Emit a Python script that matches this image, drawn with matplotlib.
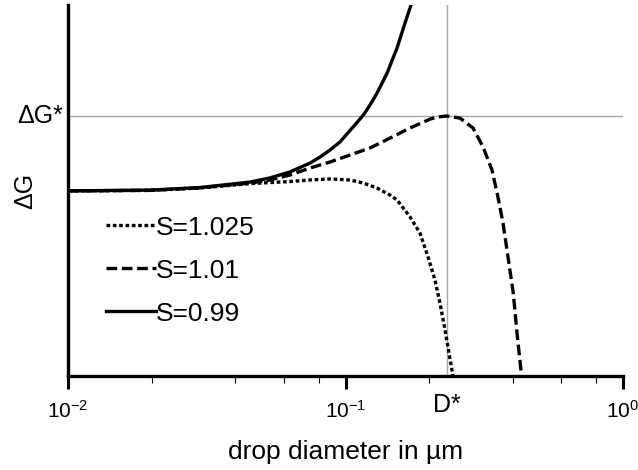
import matplotlib
matplotlib.use('Agg')
import matplotlib.pyplot as plt
import matplotlib.transforms as mtransforms
from matplotlib.ticker import LogLocator, NullFormatter, LogFormatterSciNotation, NullLocator

plt.rcParams['font.family'] = ['Liberation Sans', 'DejaVu Sans']
plt.rcParams['mathtext.fontset'] = 'custom'
plt.rcParams['mathtext.rm'] = 'Liberation Sans'
plt.rcParams['mathtext.it'] = 'Liberation Sans:italic'
plt.rcParams['mathtext.bf'] = 'Liberation Sans:bold'
plt.rcParams['axes.unicode_minus'] = False

# ---- data (drop diameter in um, Delta G in arbitrary units, Delta G* = 100) ----
labels = ['S=1.025', 'S=1.01', 'S=0.99']

d_s1025 = [0.01, 0.0198, 0.0299, 0.0453, 0.0535, 0.0631, 0.0745, 0.0879, 0.1038,
           0.116, 0.1299, 0.1447, 0.1534, 0.1708, 0.1855, 0.1983, 0.2101, 0.2190,
           0.2284, 0.2360, 0.2439]
g_s1025 = [71.2, 71.4, 72.3, 74.0, 74.4, 74.8, 75.4, 75.8, 75.4,
           74.2, 72.3, 69.6, 67.7, 61.2, 55.0, 45.8, 36.9, 28.1,
           17.7, 8.8, 0.0]

d_s101 = [0.01, 0.0198, 0.0299, 0.0453, 0.0535, 0.0631, 0.0745, 0.0879, 0.1038,
          0.1225, 0.1447, 0.1708, 0.2016, 0.2137, 0.2322, 0.2585, 0.2881, 0.3130,
          0.3373, 0.3544, 0.3695, 0.3851, 0.4023, 0.4150, 0.4310]
g_s101 = [71.2, 71.4, 72.4, 74.2, 75.4, 77.3, 80.0, 82.3, 85.0,
          87.7, 91.5, 95.4, 98.8, 99.6, 100.0, 99.2, 95.4, 88.1,
          79.2, 68.8, 58.8, 45.8, 31.9, 16.5, 0.0]

d_s099 = [0.01, 0.0198, 0.0299, 0.0453, 0.0535, 0.0631, 0.0745, 0.0809, 0.0879,
          0.0955, 0.1012, 0.108, 0.116, 0.1225, 0.1299, 0.1412, 0.1534, 0.1639, 0.1722]
g_s099 = [71.2, 71.5, 72.5, 74.6, 76.2, 78.5, 81.9, 84.2, 86.9,
          90.0, 93.1, 96.5, 100.4, 104.2, 108.8, 116.5, 126.2, 135.8, 142.7]

d_star = 0.232
g_star = 100.0

x_min, x_max = 0.01, 1.0
y_min, y_max = 0.0, 142.7

# ---- figure ----
fig = plt.figure(figsize=(6.38, 4.70), dpi=100)
ax = fig.add_axes([68 / 638, 94 / 470, 555 / 638, 371 / 470])

ax.set_xscale('log')
ax.set_xlim(x_min, x_max)
ax.set_ylim(y_min, y_max)

grey = '#a8a8a8'
ax.axhline(g_star, color=grey, lw=1.0, zorder=1)
ax.axvline(d_star, color=grey, lw=1.0, zorder=1)

lw = 2.4
ax.plot(d_s1025, g_s1025, color='black', lw=lw, dashes=(1.1, 0.8), label=labels[0], zorder=3)
ax.plot(d_s101, g_s101, color='black', lw=lw, dashes=(3.2, 1.4), label=labels[1], zorder=3)
ax.plot(d_s099, g_s099, color='black', lw=lw, label=labels[2], zorder=3)

for s in ['top', 'right']:
    ax.spines[s].set_visible(False)
for s in ['left', 'bottom']:
    ax.spines[s].set_linewidth(2.4)
    ax.spines[s].set_zorder(4)

ax.xaxis.set_major_locator(LogLocator(base=10))
ax.xaxis.set_major_formatter(LogFormatterSciNotation())
ax.xaxis.set_minor_locator(LogLocator(base=10, subs=(2, 4, 6, 8)))
ax.xaxis.set_minor_formatter(NullFormatter())
ax.tick_params(axis='x', which='major', direction='out', length=9, width=2.2, labelsize=15, pad=8)
ax.tick_params(axis='x', which='minor', direction='out', length=5, width=0.8)
ax.yaxis.set_major_locator(NullLocator())
ax.yaxis.set_minor_locator(NullLocator())

ax.set_xlabel('drop diameter in µm', fontsize=19, labelpad=13)
ax.set_ylabel('ΔG', fontsize=18, labelpad=22)

trans_y = mtransforms.blended_transform_factory(ax.transAxes, ax.transData)
ax.text(-0.008, g_star, 'ΔG*', transform=trans_y, ha='right', va='center', fontsize=18)
trans_x = mtransforms.blended_transform_factory(ax.transData, ax.transAxes)
ax.text(d_star, -0.078, 'D*', transform=trans_x, ha='center', va='center', fontsize=18)

ax.legend(loc='upper left', bbox_to_anchor=(0.068, 0.432), frameon=False,
          handlelength=1.9, handletextpad=0.0, labelspacing=0.72, fontsize=19,
          borderaxespad=0, borderpad=0)

fig.savefig('out.png', dpi=100, facecolor='white')
